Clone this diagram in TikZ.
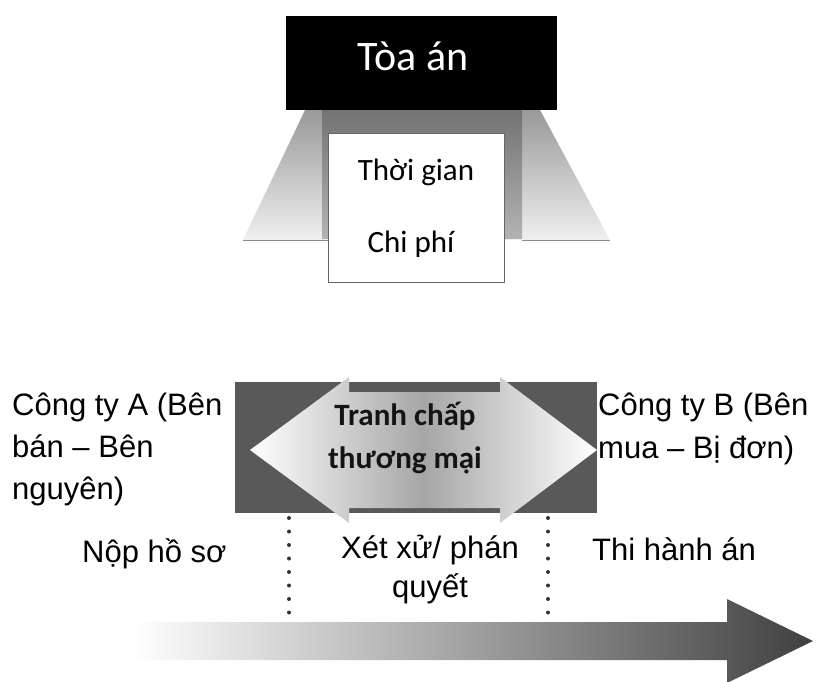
\documentclass[tikz,border=0pt]{standalone}
\usepackage{fontspec}
\setmainfont{Liberation Sans}
\newfontfamily\carlito{Carlito}
\usepackage{xcolor}
\usetikzlibrary{positioning}

\begin{document}
\begin{tikzpicture}[x=1pt,y=-1pt,>=latex,
  chu/.style={font=\fontsize{31}{42}\selectfont,inner sep=0pt,align=left,anchor=base west},
  chuhop/.style={font=\carlito\fontsize{31}{72}\selectfont,inner sep=0pt,anchor=base},
  chamcham/.style={line width=4pt,black!80,line cap=round,dash pattern=on 0pt off 13.5pt}]
  % Khung hình
  \useasboundingbox (0,0) rectangle (819,681);

  % Phễu xám dưới Tòa án
  \shade[top color=black!40,bottom color=black!6]
    (305,110) -- (540,110) -- (610,240) -- (243,240) -- cycle;
  \draw[black!45,line width=0.6pt] (243,240) -- (328,240) (522,240) -- (610,240);
  \shade[top color=black!55,bottom color=black!30] (322,110) rectangle (522,238);

  % Hộp Thời gian / Chi phí
  \draw[black!60,fill=white,line width=0.8pt] (328,133) rectangle (504,282);
  \node[chuhop] (thoigian) at (416,180) {Thời gian};
  \node[chuhop] (chiphi) at (411,252) {Chi phí};

  % Tòa án
  \fill[black] (286,16) rectangle (557,110);
  \node[chuhop,font=\carlito\fontsize{42}{50}\selectfont,text=white] (toaan) at (413,70) {Tòa án};

  % Tranh chấp: nền xám và mũi tên hai chiều
  \fill[black!65] (235,382) rectangle (597,513);
  \shade[left color=white,right color=white,middle color=black!35]
    (250,450) -- (349,377) -- (349,392) -- (500,392) -- (500,377) -- (597,450)
    -- (500,523) -- (500,508) -- (349,508) -- (349,523) -- cycle;
  \node[chuhop,font=\carlito\bfseries\fontsize{31}{43}\selectfont,align=center,text=black!92]
    (tranhchap) at (405,468) {Tranh chấp\\thương mại};

  % Hai bên
  \node[chu] (congtyA) at (12,499) {Công ty A (Bên\\bán – Bên\\nguyên)};
  \node[chu,font=\fontsize{31}{43}\selectfont] (congtyB) at (598,458) {Công ty B (Bên\\mua – Bị đơn)};

  % Các giai đoạn
  \node[chu] (nophoso) at (82,562) {Nộp hồ sơ};
  \node[chu,font=\fontsize{31}{39}\selectfont,align=center,anchor=base] (xetxu) at (430,597) {Xét xử/ phán\\quyết};
  \node[chu] (thihanh) at (592,560) {Thi hành án};

  % Đường chấm phân cách
  \coordinate (m1a) at (289,518);
  \coordinate (m1b) at (289,614);
  \coordinate (m2a) at (548,518);
  \coordinate (m2b) at (548,614);
  \draw[chamcham] (m1a) -- (m1b);
  \draw[chamcham] (m2a) -- (m2b);

  % Mũi tên thời gian
  \shade[left color=white,right color=black!75]
    (133,622) -- (727,622) -- (727,599) -- (813,641) -- (727,683) -- (727,660)
    -- (133,660) -- cycle;
\end{tikzpicture}
\end{document}
